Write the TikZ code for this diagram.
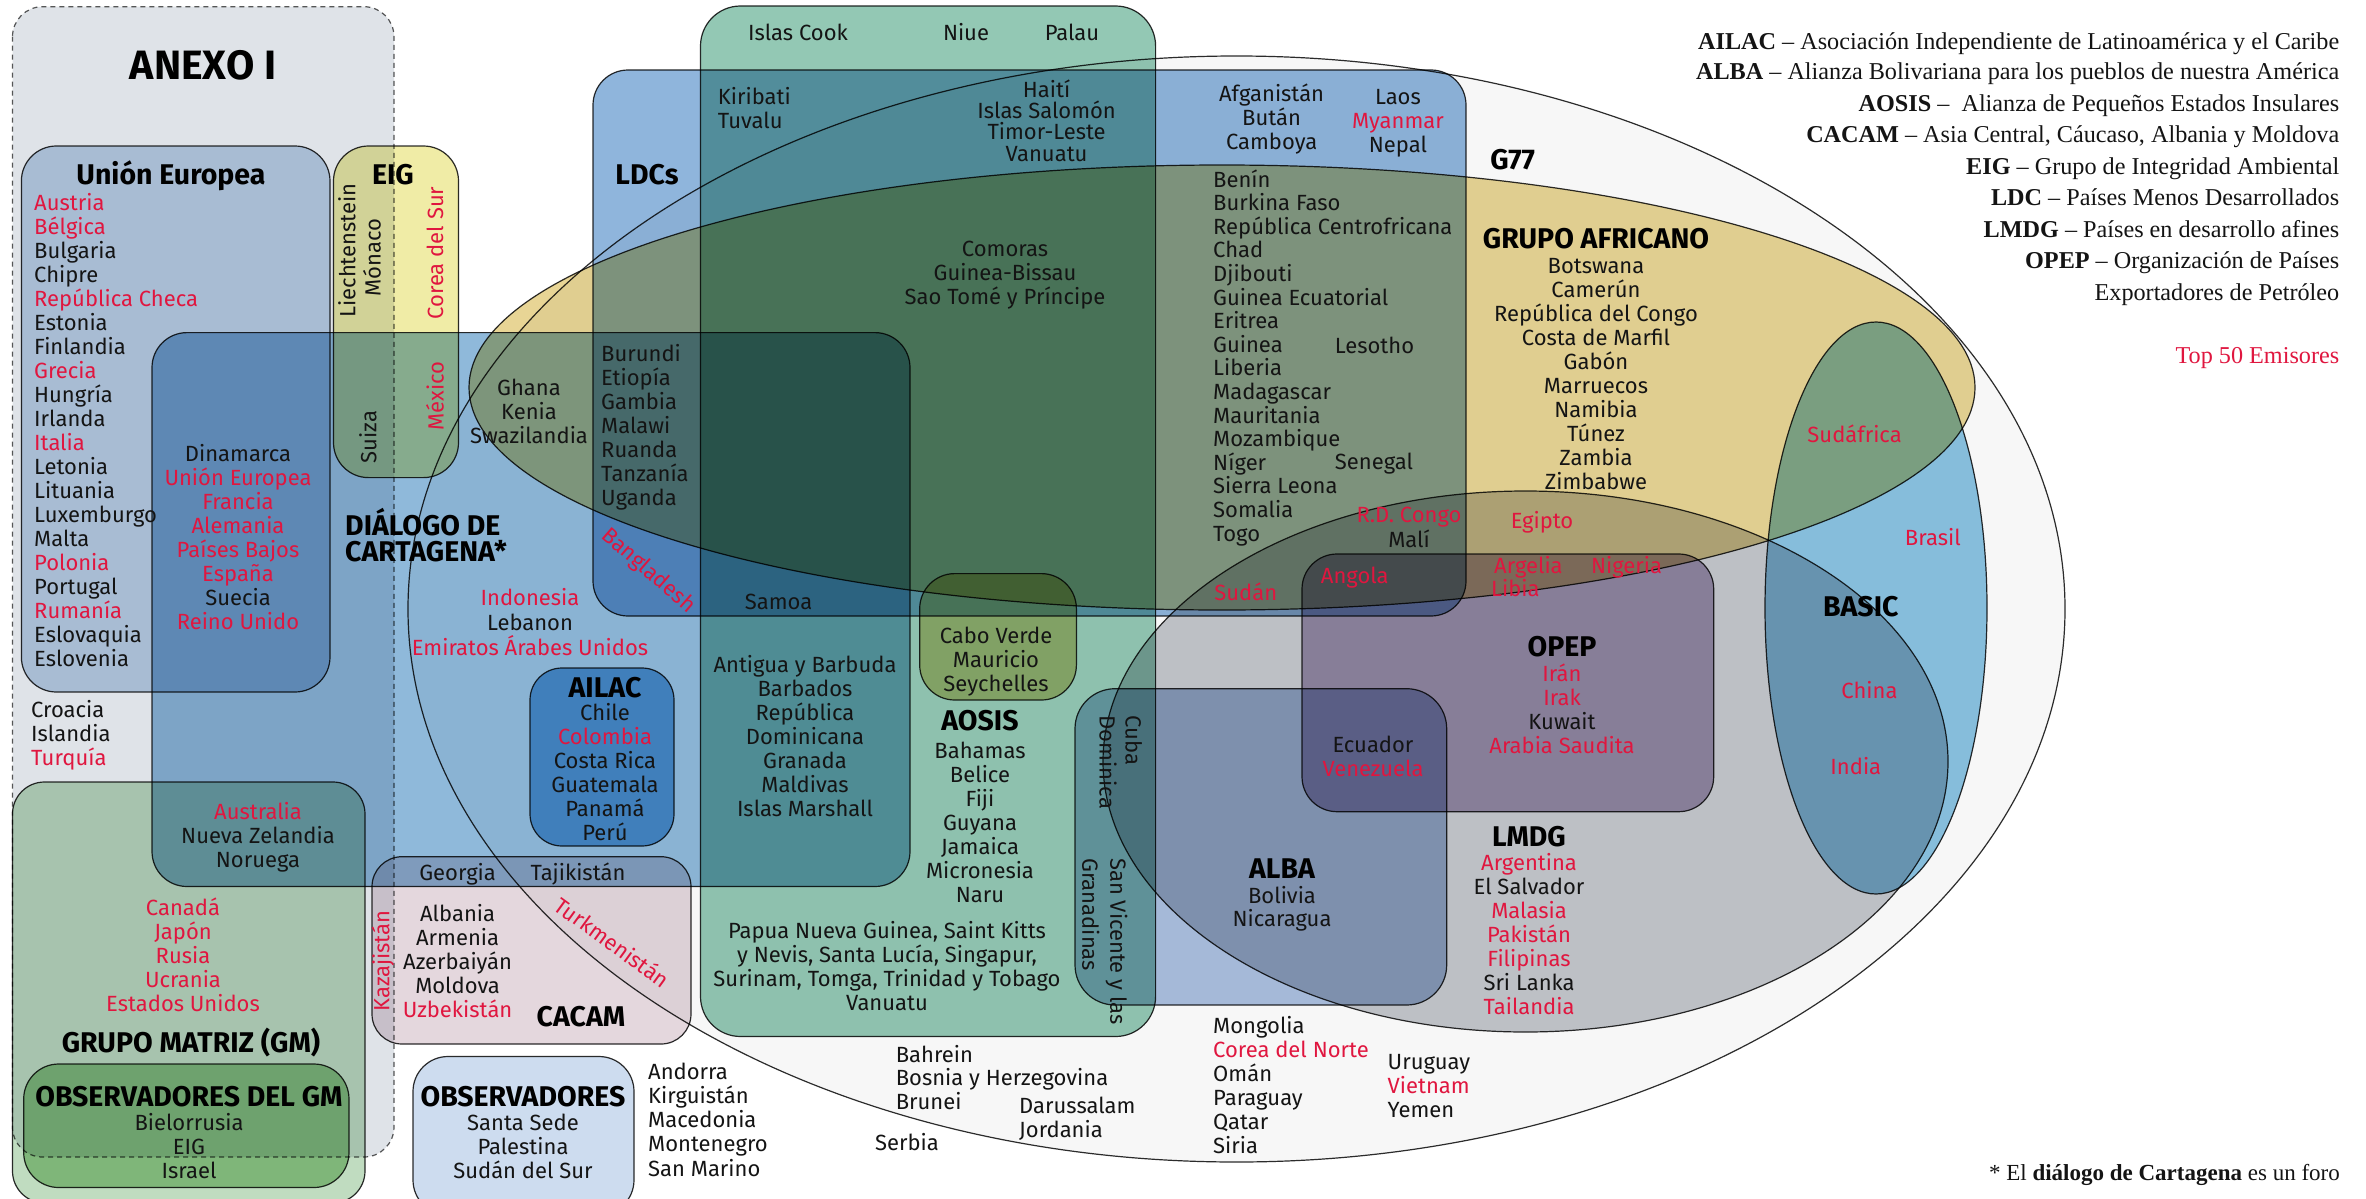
\documentclass[tikz,border=0pt]{standalone}
\usepackage{fontspec}
\setmainfont{Fira Sans}
\newfontfamily\lgfont{Liberation Serif}
\definecolor{rd}{RGB}{224,22,63}
\definecolor{bk}{RGB}{20,20,20}
\definecolor{lineC}{RGB}{45,45,45}
\definecolor{dashC}{RGB}{90,90,90}
\definecolor{g77C}{HTML}{F7F7F7}
\definecolor{anexC}{HTML}{DFE3E8}
\definecolor{ueC}{HTML}{C1D4E8}
\definecolor{eigC}{HTML}{F0ECA6}
\definecolor{cartC}{HTML}{8FB9DA}
\definecolor{ldcC}{HTML}{8FB5DC}
\definecolor{aosC}{HTML}{93C8B4}
\definecolor{afrC}{HTML}{E8D595}
\definecolor{lmdC}{HTML}{C4C7CC}
\definecolor{opC}{HTML}{B7A8C5}
\definecolor{albC}{HTML}{ABC0E0}
\definecolor{basC}{HTML}{8BC4E3}
\definecolor{ailC}{HTML}{78B6E2}
\definecolor{cacC}{HTML}{E4D7DD}
\definecolor{obsC}{HTML}{CDDCEF}
\definecolor{gmC}{HTML}{C0DCC0}
\definecolor{ogmC}{HTML}{A9D4A2}
\tikzset{
  txt/.style={font=\fontsize{22}{24}\selectfont, inner sep=0pt, text=bk},
  hd/.style={font=\fontsize{28.5}{28.5}\selectfont\bfseries, inner sep=0pt, text=black},
  lg/.style={font=\lgfont\fontsize{24.2}{26}\selectfont, inner sep=0pt, text=bk},
  shp/.style={draw=lineC, line width=1.2pt},
}
\newcommand\clist[6]{%
  \foreach \itm/\col [count=\i from 0] in {#6}{%
    \node[txt, text=\col, anchor=#5] (#1\i) at (#2, {#3+#4*\i}) {\itm};
  }}
\begin{document}
\begin{tikzpicture}[x=1pt,y=-1pt]
\useasboundingbox (0,0) rectangle (2366,1199);
\clip (0,0) rectangle (2366,1199);
\fill[white] (0,0) rectangle (2366,1199);
\begin{scope}[blend mode=multiply]
  % ellipses
  \filldraw[shp, fill=g77C] (1236.5,609) ellipse [x radius=828.5, y radius=553];
  \filldraw[shp, fill=afrC] (1222,387.5) ellipse [x radius=753, y radius=222.5];
  \filldraw[shp, fill=lmdC] (1525.5,761.5) ellipse [x radius=422.5, y radius=270.5];
  \filldraw[shp, fill=basC] (1876,608) ellipse [x radius=111, y radius=286];
  % boxes
  \filldraw[draw=dashC, line width=1.2pt, dash pattern=on 5pt off 4pt, fill=anexC, rounded corners=30] (12.5,6.7) rectangle (394,1157);
  \filldraw[shp, fill=ueC, rounded corners=35] (21.4,146) rectangle (330,692);
  \filldraw[shp, fill=eigC, rounded corners=35] (333.5,146) rectangle (458.5,477.6);
  \filldraw[shp, fill=cartC, rounded corners=35] (152,332.6) rectangle (910,886.5);
  \filldraw[shp, fill=ldcC, rounded corners=35] (593,70) rectangle (1466,616);
  \filldraw[shp, fill=aosC, rounded corners=40] (700.5,6) rectangle (1155.6,1036.5);
  \filldraw[shp, fill=albC, rounded corners=40] (1075,688.7) rectangle (1446.7,1005);
  \filldraw[shp, fill=opC, rounded corners=35] (1302,554) rectangle (1713.7,811.7);
  \filldraw[shp, fill=ailC, rounded corners=32] (530,668) rectangle (674,846);
  \filldraw[shp, fill=cacC, rounded corners=30] (372,856.7) rectangle (691,1044);
  \filldraw[shp, fill=obsC, rounded corners=35] (413,1056.5) rectangle (634,1215);
  \filldraw[shp, fill=gmC, rounded corners=32] (12.5,782) rectangle (365,1203);
  \filldraw[shp, fill=ogmC, rounded corners=35] (23.7,1064) rectangle (349,1187.5);
  \filldraw[shp, fill=afrC, rounded corners=35] (919.7,573.6) rectangle (1076.4,700);
\end{scope}
% headings
\node[hd, font=\fontsize{41}{41}\selectfont\bfseries, anchor=base] (anexo) at (203,80) {ANEXO I};
\node[hd, anchor=base] (ueT) at (171,184.5) {Unión Europea};
\node[hd, anchor=base] (eigT) at (393,184.5) {EIG};
\node[hd, anchor=base] (ldcT) at (647,184.5) {LDCs};
\node[hd, anchor=base] (g77T) at (1512.7,169) {G77};
\node[hd, anchor=base] (afrT) at (1596,248) {GRUPO AFRICANO};
\node[hd, anchor=base west] (dcT) at (345,535.5) {DIÁLOGO DE};
\node[hd, anchor=base west] (dcT2) at (345,561) {CARTAGENA*};
\node[hd, anchor=base] (ailT) at (605,697) {AILAC};
\node[hd, anchor=base] (cacT) at (581,1026) {CACAM};
\node[hd, anchor=base] (gmT) at (191,1052) {GRUPO MATRIZ (GM)};
\node[hd, anchor=base] (ogT) at (189,1106.5) {OBSERVADORES DEL GM};
\node[hd, anchor=base] (obT) at (523,1106.5) {OBSERVADORES};
\node[hd, anchor=base] (aosT) at (980,730) {AOSIS};
\node[hd, anchor=base] (opT) at (1562,656.5) {OPEP};
\node[hd, anchor=base] (lmT) at (1529,846.5) {LMDG};
\node[hd, anchor=base] (albT) at (1282,878.5) {ALBA};
\node[hd, anchor=base] (basT) at (1860.8,616) {BASIC};
% lists
\clist{ue}{34}{210}{24}{base west}{Austria/rd,Bélgica/rd,Bulgaria/bk,Chipre/bk,República Checa/rd,Estonia/bk,Finlandia/bk,Grecia/rd,Hungría/bk,Irlanda/bk,Italia/rd,Letonia/bk,Lituania/bk,Luxemburgo/bk,Malta/bk,Polonia/rd,Portugal/bk,Rumanía/rd,Eslovaquia/bk,Eslovenia/bk}
\clist{dk}{238}{461}{24}{base}{Dinamarca/bk,Unión Europea/rd,Francia/rd,Alemania/rd,Países Bajos/rd,España/rd,Suecia/bk,Reino Unido/rd}
\clist{cr}{31}{717.6}{24}{base west}{Croacia/bk,Islandia/bk,Turquía/rd}
\clist{gh}{529}{395.5}{24}{base}{Ghana/bk,Kenia/bk,Swazilandia/bk}
\clist{bu}{601}{361.6}{24}{base west}{Burundi/bk,Etiopía/bk,Gambia/bk,Malawi/bk,Ruanda/bk,Tanzanía/bk,Uganda/bk}
\clist{in}{530}{605}{25}{base}{Indonesia/rd,Lebanon/bk,Emiratos Árabes Unidos/rd}
\clist{au}{258}{819}{24}{base}{Australia/rd,Nueva Zelandia/bk,Noruega/bk}
\clist{ai}{605}{720.7}{24}{base}{Chile/bk,Colombia/rd,Costa Rica/bk,Guatemala/bk,Panamá/bk,Perú/bk}
\clist{al}{457.6}{921}{24}{base}{Albania/bk,Armenia/bk,Azerbaiyán/bk,Moldova/bk,Uzbekistán/rd}
\clist{ca}{183}{915.5}{24}{base}{Canadá/rd,Japón/rd,Rusia/rd,Ucrania/rd,Estados Unidos/rd}
\clist{og}{189}{1130.6}{24}{base}{Bielorrusia/bk,EIG/bk,Israel/bk}
\clist{ob}{523}{1130.6}{24}{base}{Santa Sede/bk,Palestina/bk,Sudán del Sur/bk}
\clist{an}{648}{1079}{24.3}{base west}{Andorra/bk,Kirguistán/bk,Macedonia/bk,Montenegro/bk,San Marino/bk}
\clist{ki}{717.7}{104}{24}{base west}{Kiribati/bk,Tuvalu/bk}
\clist{ha}{1046.6}{97}{21.4}{base}{Haití/bk,Islas Salomón/bk,Timor-Leste/bk,Vanuatu/bk}
\clist{af}{1271.6}{101}{24}{base}{Afganistán/bk,Bután/bk,Camboya/bk}
\clist{la}{1397.9}{104}{24}{base}{Laos/bk,Myanmar/rd,Nepal/bk}
\clist{co}{1005}{256.7}{24}{base}{Comoras/bk,Guinea-Bissau/bk,Sao Tomé y Príncipe/bk}
\clist{be}{1213}{187}{23.6}{base west}{Benín/bk,Burkina Faso/bk,República Centrofricana/bk,Chad/bk,Djibouti/bk,Guinea Ecuatorial/bk,Eritrea/bk,Guinea/bk,Liberia/bk,Madagascar/bk,Mauritania/bk,Mozambique/bk,Níger/bk,Sierra Leona/bk,Somalia/bk,Togo/bk}
\clist{op}{1562}{681}{24}{base}{Irán/rd,Irak/rd,Kuwait/bk,Arabia Saudita/rd}
\clist{ec}{1373}{752}{24}{base}{Ecuador/bk,Venezuela/rd}
\clist{lm}{1529}{870}{24}{base}{Argentina/rd,El Salvador/bk,Malasia/rd,Pakistán/rd,Filipinas/rd,Sri Lanka/bk,Tailandia/rd}
\clist{bo}{1596}{273}{24}{base}{Botswana/bk,Camerún/bk,República del Congo/bk,Costa de Marfil/bk,Gabón/bk,Marruecos/bk,Namibia/bk,Túnez/bk,Zambia/bk,Zimbabwe/bk}
\clist{ag}{805}{672}{24}{base}{Antigua y Barbuda/bk,Barbados/bk,República/bk,Dominicana/bk,Granada/bk,Maldivas/bk,Islas Marshall/bk}
\clist{cv}{996}{643}{24}{base}{Cabo Verde/bk,Mauricio/bk,Seychelles/bk}
\clist{ba}{980}{758}{24}{base}{Bahamas/bk,Belice/bk,Fiji/bk,Guyana/bk,Jamaica/bk,Micronesia/bk,Naru/bk}
\clist{pa}{887}{938}{24.2}{base}{{Papua Nueva Guinea, Saint Kitts}/bk,{y Nevis, Santa Lucía, Singapur,}/bk,{Surinam, Tomga, Trinidad y Tobago}/bk,Vanuatu/bk}
\clist{alb}{1282}{903}{23.5}{base}{Bolivia/bk,Nicaragua/bk}
\clist{bh}{895.6}{1062}{23.7}{base west}{Bahrein/bk,Bosnia y Herzegovina/bk,Brunei/bk}
\clist{da}{1019}{1113.6}{24}{base west}{Darussalam/bk,Jordania/bk}
\clist{mo}{1213}{1033}{24}{base west}{Mongolia/bk,Corea del Norte/rd,Omán/bk,Paraguay/bk,Qatar/bk,Siria/bk}
\clist{ur}{1387.5}{1069.3}{24}{base west}{Uruguay/bk,Vietnam/rd,Yemen/bk}
% single labels
\node[txt, anchor=base] (geo) at (457.6,880) {Georgia};
\node[txt, anchor=base] (taj) at (578,880) {Tajikistán};
\node[txt, anchor=base] (cook) at (798,41) {Islas Cook};
\node[txt, anchor=base] (niue) at (966,41) {Niue};
\node[txt, anchor=base] (palau) at (1072,41) {Palau};
\node[txt, anchor=base west] (les) at (1334.7,353) {Lesotho};
\node[txt, anchor=base west] (sen) at (1334.7,469) {Senegal};
\node[txt, text=rd, anchor=base] (rdc) at (1409,522) {R.D. Congo};
\node[txt, anchor=base] (mali) at (1409,547.7) {Malí};
\node[txt, text=rd, anchor=base] (sud) at (1245.8,600) {Sudán};
\node[txt, text=rd, anchor=base] (ang) at (1354.8,583) {Angola};
\node[txt, text=rd, anchor=base] (egi) at (1542,528.7) {Egipto};
\node[txt, text=rd, anchor=base west] (arg) at (1494,573) {Argelia};
\node[txt, text=rd, anchor=base] (nig) at (1626.5,573) {Nigeria};
\node[txt, text=rd, anchor=base west] (lib) at (1491,596) {Libia};
\node[txt, text=rd, anchor=base] (chi) at (1869.4,698.5) {China};
\node[txt, text=rd, anchor=base] (ind) at (1855.8,774) {India};
\node[txt, text=rd, anchor=base] (bra) at (1932.8,545.6) {Brasil};
\node[txt, text=rd, anchor=base] (saf) at (1854.6,442.7) {Sudáfrica};
\node[txt, anchor=base] (samoa) at (778.5,609) {Samoa};
\node[txt, anchor=base] (serb) at (907,1150.8) {Serbia};
% rotated labels
\node[txt, rotate=90] (lie) at (347,250.6) {Liechtenstein};
\node[txt, rotate=90] (mon) at (372,257.8) {Mónaco};
\node[txt, text=rd, rotate=90] (cor) at (435,253) {Corea del Sur};
\node[txt, rotate=90] (sui) at (368,437) {Suiza};
\node[txt, text=rd, rotate=90] (mex) at (435,396) {México};
\node[txt, text=rd, rotate=90] (kaz) at (383,961) {Kazajistán};
\node[txt, rotate=-90, anchor=west] (cuba) at (1133.8,715.6) {Cuba};
\node[txt, rotate=-90, anchor=west] (dom) at (1108,715.6) {Dominica};
\node[txt, rotate=-90, anchor=west] (svi) at (1116.6,858) {San Vicente y las};
\node[txt, rotate=-90, anchor=west] (gra) at (1090.8,858) {Granadinas};
\node[txt, text=rd, rotate=-41] (ban) at (648,571) {Bangladesh};
\node[txt, text=rd, rotate=-36] (tur) at (612.5,942) {Turkmenistán};
% legend
\node[lg, anchor=base east] (lg1) at (2339.4,49) {\textbf{AILAC} – Asociación Independiente de Latinoamérica y el Caribe};
\node[lg, anchor=base east] (lg2) at (2339.4,79) {\textbf{ALBA} – Alianza Bolivariana para los pueblos de nuestra América};
\node[lg, anchor=base east] (lg3) at (2339.4,111.5) {\textbf{AOSIS} –\ \ Alianza de Pequeños Estados Insulares};
\node[lg, anchor=base east] (lg4) at (2339.4,142.5) {\textbf{CACAM} – Asia Central, Cáucaso, Albania y Moldova};
\node[lg, anchor=base east] (lg5) at (2339.4,174) {\textbf{EIG} – Grupo de Integridad Ambiental};
\node[lg, anchor=base east] (lg6) at (2339.4,205) {\textbf{LDC} – Países Menos Desarrollados};
\node[lg, anchor=base east] (lg7) at (2339.4,237) {\textbf{LMDG} – Países en desarrollo afines};
\node[lg, anchor=base east] (lg8) at (2339.4,268) {\textbf{OPEP} – Organización de Países};
\node[lg, anchor=base east] (lg9) at (2339.4,300) {Exportadores de Petróleo};
\node[lg, text=rd, anchor=base east] (lg10) at (2339.4,363.5) {Top 50 Emisores};
\node[lg, font=\lgfont\fontsize{23}{25}\selectfont, anchor=base east] (foot) at (2340,1180) {* El \textbf{diálogo de Cartagena} es un foro};
\end{tikzpicture}
\end{document}
